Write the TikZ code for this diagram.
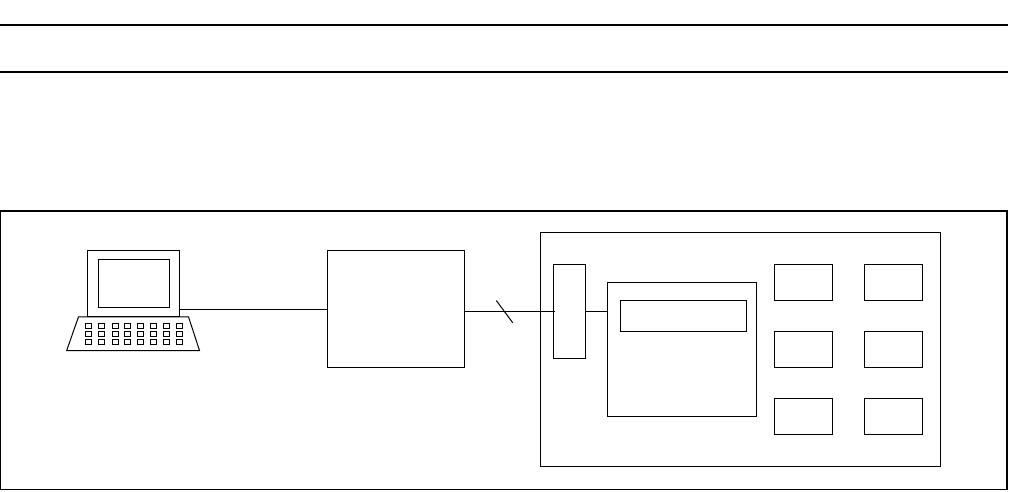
\documentclass[tikz,border=0pt]{standalone}
\begin{document}
\begin{tikzpicture}[x=1pt,y=-1pt,line width=1pt,
  boxed/.style={draw=black,rectangle,inner sep=0pt,outer sep=0pt,anchor=north west,minimum width=#1},
  keycap/.style={draw=black,rectangle,inner sep=0pt,outer sep=0pt,anchor=north west,minimum width=6pt,minimum height=4.5pt,line width=0.9pt},
  rulebar/.style={line width=2pt,black}]
\useasboundingbox (0,0) rectangle (1009,491);
\fill[white] (0,0) rectangle (1009,491);
% horizontal rules
\coordinate (ruleAl) at (0,25); \coordinate (ruleAr) at (1008,25);
\coordinate (ruleBl) at (0,71.5); \coordinate (ruleBr) at (1008,71.5);
\draw[rulebar] (ruleAl) -- (ruleAr);
\draw[rulebar] (ruleBl) -- (ruleBr);
% outer frame
\node[boxed=1006.3pt,minimum height=278.5pt,line width=1.4pt] (frame) at (0.7,211) {};
% terminal
\node[boxed=92pt,minimum height=66pt] (monitor) at (87.5,250.5) {};
\node[boxed=70.5pt,minimum height=48pt] (screen) at (98.5,259.5) {};
\draw (78.5,316.8) -- (188.5,316.8) -- (199.5,350.5) -- (66.7,350.5) -- cycle;
\foreach \kx [count=\i] in {85.5,98.5,112.5,124.5,137.5,150.5,163.5,176.5}
  \foreach \ky [count=\j] in {323.5,331.5,339.5}
    \node[keycap] (key\i\j) at (\kx,\ky) {};
% controller
\node[boxed=137.3pt,minimum height=117pt] (ctrl) at (327.5,250.5) {};
% instrument
\node[boxed=400pt,minimum height=233.5pt] (instr) at (540.5,232.5) {};
\node[boxed=32pt,minimum height=93.5pt] (bus) at (553.5,264.5) {};
\node[boxed=149pt,minimum height=133.5pt] (core) at (607.5,282.5) {};
\node[boxed=126pt,minimum height=31pt] (panel) at (620.5,300.5) {};
\node[boxed=58pt,minimum height=35.5pt] (a1) at (774.5,264.5) {};
\node[boxed=58pt,minimum height=35.5pt] (a2) at (864.5,264.5) {};
\node[boxed=58pt,minimum height=36pt] (b1) at (774.5,331.5) {};
\node[boxed=58pt,minimum height=36pt] (b2) at (864.5,331.5) {};
\node[boxed=58pt,minimum height=36pt] (c1) at (774.5,398.5) {};
\node[boxed=58pt,minimum height=36pt] (c2) at (864.5,398.5) {};
% connectors
\coordinate (termOut) at (monitor.east |- 0,309.5);
\draw (termOut) -- (termOut -| ctrl.west);
\coordinate (ctrlOut) at (ctrl.east |- 0,311.5);
\coordinate (busIn) at (555,311.5);
\draw (ctrlOut) -- (busIn);
\coordinate (busOut) at (bus.east |- 0,311.5);
\draw (busOut) -- (busOut -| core.west);
\coordinate (slashA) at (496.3,300.5);
\coordinate (slashB) at (512.7,322.7);
\draw (slashA) -- (slashB);
\end{tikzpicture}
\end{document}
